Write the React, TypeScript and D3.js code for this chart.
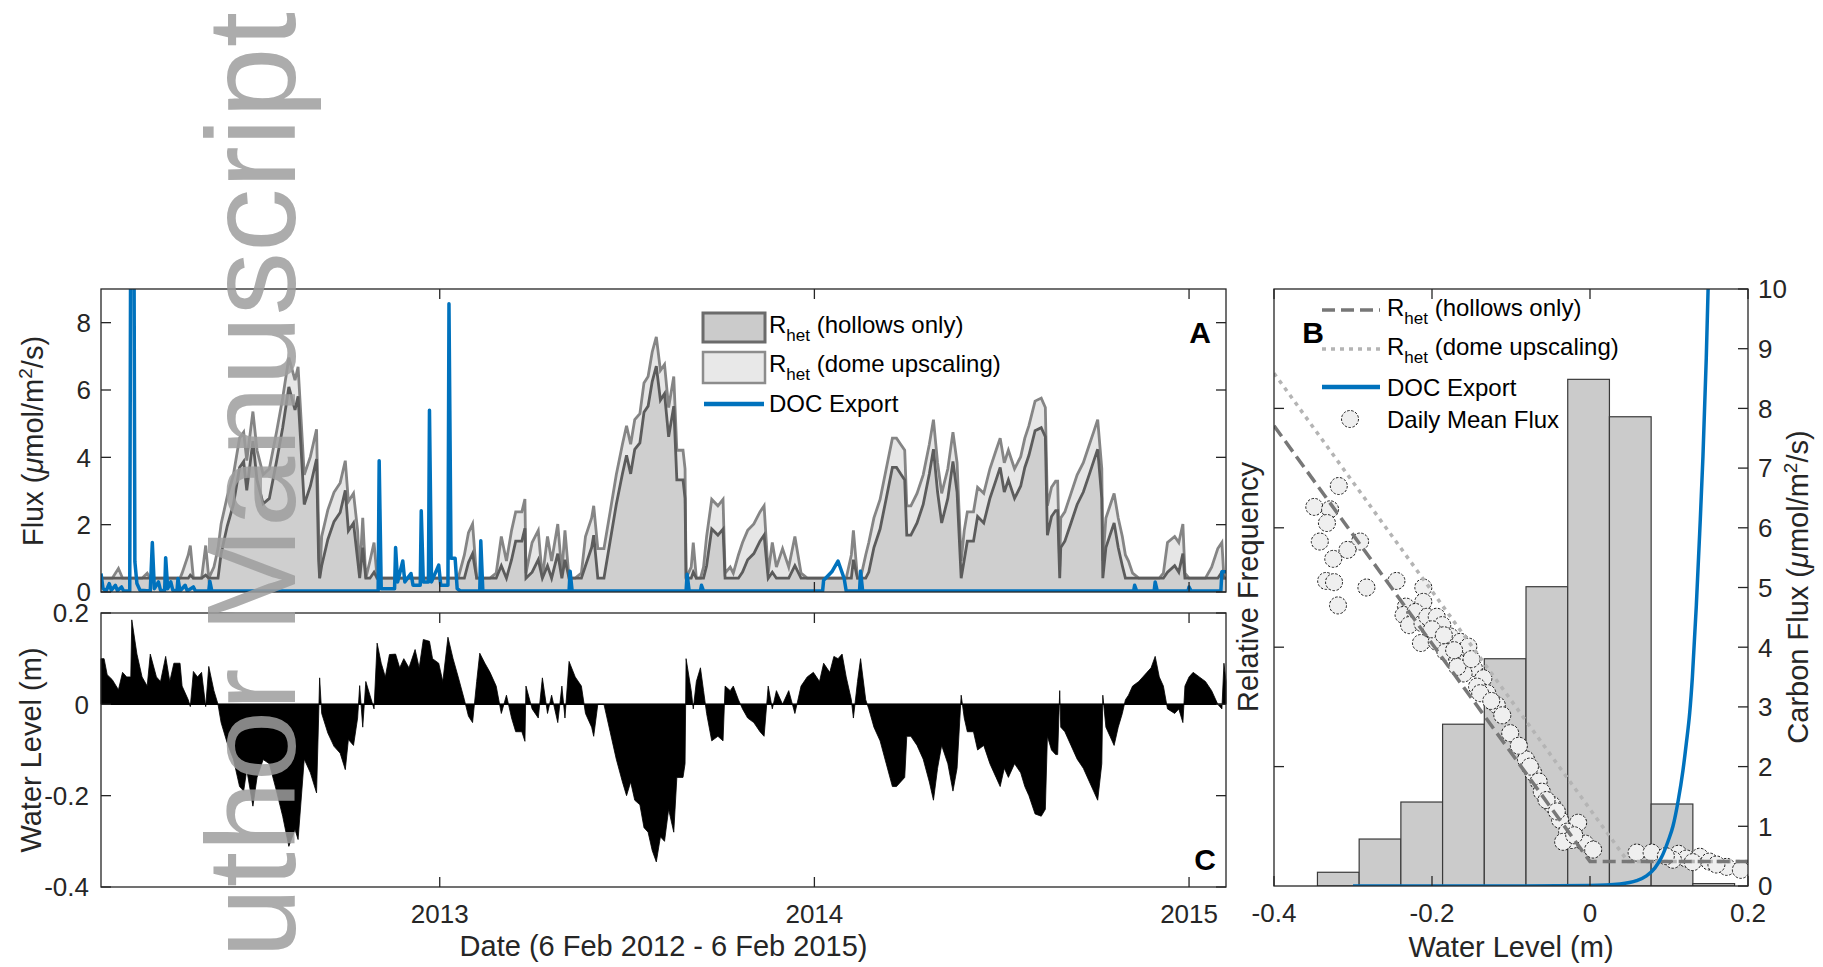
import React, { useEffect } from 'react';
import * as d3 from 'd3';

// ---------- panel A / C : daily series, days since 6 Feb 2012 ----------
const sampleDay = [
  0, 3, 6, 11, 17, 21, 25, 29, 30, 35,
  40, 45, 48, 54, 58, 63, 67, 71, 77, 79,
  85, 87, 90, 94, 98, 102, 105, 110, 114, 117,
  123, 129, 135, 139, 142, 148, 152, 158, 164, 171,
  177, 183, 189, 192, 194, 198, 204, 210, 212, 213,
  215, 221, 227, 233, 238, 241, 246, 250, 252, 255,
  258, 262, 266, 269, 273, 277, 281, 287, 291, 295,
  300, 306, 310, 314, 320, 323, 329, 333, 338, 343,
  348, 354, 358, 362, 366, 369, 374, 379, 385, 390,
  395, 400, 404, 410, 413, 414, 420, 426, 430, 435,
  439, 445, 449, 452, 456, 462, 468, 472, 478, 480,
  484, 490, 496, 502, 508, 512, 516, 520, 525, 529,
  533, 537, 541, 545, 549, 553, 558, 561, 567, 569,
  570, 575, 577, 580, 584, 587, 590, 595, 601, 606,
  608, 613, 616, 621, 625, 630, 636, 642, 646, 650,
  654, 658, 664, 670, 676, 682, 688, 694, 700, 704,
  710, 714, 718, 722, 726, 731, 733, 737, 740, 745,
  748, 753, 759, 765, 771, 775, 779, 783, 785, 789,
  795, 801, 807, 811, 815, 819, 825, 830, 834, 838,
  841, 844, 850, 854, 860, 866, 872, 876, 880, 884,
  890, 896, 900, 904, 910, 916, 920, 922, 926, 930,
  932, 934, 935, 939, 945, 951, 957, 963, 967, 971,
  975, 976, 979, 983, 987, 991, 995, 998, 1001, 1005,
  1011, 1015, 1019, 1023, 1027, 1031, 1035, 1039, 1046, 1050,
  1054, 1056, 1060, 1064, 1070, 1076, 1082, 1088, 1092, 1094, 1096,
];

const waterLevel = [
  0.10, 0.10, 0.065, 0.054, 0.032, 0.07, 0.06, 0.06, 0.185, 0.11,
  0.06, 0.04, 0.11, 0.06, 0.05, 0.105, 0.05, 0.09, 0.09, 0.04,
  0.01, -0.005, 0.072, 0.06, 0.07, -0.005, 0.083, 0.03, 0, -0.04,
  -0.085, -0.12, -0.18, -0.19, -0.143, -0.223, -0.16, -0.121, -0.13, -0.19,
  -0.245, -0.311, -0.274, -0.296, -0.238, -0.12, -0.15, -0.194, -0.03, 0.058,
  -0.02, -0.063, -0.092, -0.107, -0.143, -0.077, -0.09, -0.03, 0.041, -0.05,
  0.05, 0.02, -0.01, 0.134, 0.09, 0.06, 0.109, 0.11, 0.08, 0.10,
  0.08, 0.12, 0.08, 0.142, 0.138, 0.10, 0.09, 0.05, 0.147, 0.10,
  0.06, 0.01, -0.026, -0.04, 0.05, 0.112, 0.09, 0.07, 0.04, -0.02,
  0.02, -0.03, -0.06, -0.06, -0.081, 0.04, -0.01, -0.03, 0.058, -0.02,
  0.02, -0.04, 0.04, -0.03, 0.094, 0.06, 0.04, -0.02, -0.05, -0.07,
  0, 0, -0.06, -0.12, -0.17, -0.20, -0.17, -0.21, -0.22, -0.27,
  -0.28, -0.32, -0.345, -0.29, -0.30, -0.23, -0.28, -0.16, -0.16, -0.13,
  0.10, 0.03, -0.01, 0.05, 0.08, 0.03, -0.02, -0.08, -0.07, -0.08,
  0.04, 0.03, 0.04, 0.01, -0.01, -0.03, -0.04, -0.06, -0.07, 0.04,
  -0.01, 0.03, 0, 0.03, -0.02, 0.04, 0.06, 0.07, 0.05, 0.09,
  0.07, 0.105, 0.10, 0.11, 0.06, 0.01, -0.03, 0.05, 0.10, 0.01,
  -0.01, -0.05, -0.08, -0.13, -0.18, -0.18, -0.17, -0.16, -0.07, -0.07,
  -0.09, -0.12, -0.17, -0.21, -0.14, -0.09, -0.13, -0.19, -0.14, 0.02,
  -0.03, -0.06, -0.06, -0.10, -0.09, -0.13, -0.16, -0.18, -0.14, -0.16,
  -0.13, -0.15, -0.18, -0.20, -0.24, -0.245, -0.23, -0.07, -0.10, -0.11,
  -0.11, 0.03, -0.05, -0.06, -0.09, -0.12, -0.14, -0.17, -0.19, -0.21,
  -0.13, 0.02, -0.05, -0.07, -0.09, -0.05, -0.02, 0.01, 0.02, 0.04,
  0.05, 0.06, 0.07, 0.08, 0.105, 0.06, 0.04, -0.01, -0.02, -0.01,
  -0.04, 0.04, 0.06, 0.07, 0.06, 0.05, 0.03, 0, -0.01, 0.09, 0.05,
];

const rhetHollows = [
  0.41, 0.41, 0.41, 0.41, 0.41, 0.41, 0.41, 0.41, 0.41, 0.41,
  0.41, 0.41, 0.41, 0.41, 0.41, 0.41, 0.41, 0.41, 0.41, 0.41,
  0.41, 0.50, 0.41, 0.41, 0.41, 0.50, 0.41, 0.41, 0.41, 1.14,
  1.96, 2.60, 3.70, 3.88, 3.02, 4.48, 3.33, 2.62, 2.78, 3.88,
  4.88, 6.09, 5.41, 5.81, 4.75, 2.60, 3.15, 3.95, 0.96, 0.41,
  0.78, 1.56, 2.09, 2.36, 3.02, 1.82, 2.05, 0.96, 0.41, 1.32,
  0.41, 0.41, 0.59, 0.41, 0.41, 0.41, 0.41, 0.41, 0.41, 0.41,
  0.41, 0.41, 0.41, 0.41, 0.41, 0.41, 0.41, 0.41, 0.41, 0.41,
  0.41, 0.41, 0.88, 1.14, 0.41, 0.41, 0.41, 0.41, 0.41, 0.78,
  0.41, 0.96, 1.51, 1.51, 1.89, 0.41, 0.59, 0.96, 0.41, 0.78,
  0.41, 1.14, 0.41, 0.96, 0.41, 0.41, 0.41, 0.78, 1.32, 1.69,
  0.41, 0.41, 1.51, 2.60, 3.51, 4.06, 3.51, 4.24, 4.43, 5.34,
  5.52, 6.25, 6.71, 5.70, 5.89, 4.61, 5.52, 3.33, 3.33, 2.78,
  0.41, 0.41, 0.59, 0.41, 0.41, 0.41, 0.78, 1.87, 1.69, 1.87,
  0.41, 0.41, 0.41, 0.41, 0.59, 0.96, 1.14, 1.51, 1.69, 0.41,
  0.59, 0.41, 0.41, 0.41, 0.78, 0.41, 0.41, 0.41, 0.41, 0.41,
  0.41, 0.41, 0.41, 0.41, 0.41, 0.41, 0.96, 0.41, 0.41, 0.41,
  0.59, 1.32, 1.87, 2.78, 3.70, 3.70, 3.51, 3.33, 1.69, 1.69,
  2.05, 2.60, 3.51, 4.24, 2.97, 2.05, 2.78, 3.88, 2.97, 0.41,
  0.96, 1.51, 1.51, 2.24, 2.05, 2.78, 3.33, 3.70, 2.97, 3.33,
  2.78, 3.15, 3.70, 4.06, 4.79, 4.88, 4.61, 1.69, 2.24, 2.42,
  2.42, 0.41, 1.32, 1.51, 2.05, 2.60, 2.97, 3.51, 3.88, 4.24,
  2.78, 0.41, 1.32, 1.69, 2.05, 1.32, 0.78, 0.41, 0.41, 0.41,
  0.41, 0.41, 0.41, 0.41, 0.41, 0.41, 0.41, 0.59, 0.78, 0.59,
  1.14, 0.41, 0.41, 0.41, 0.41, 0.41, 0.41, 0.41, 0.59, 0.41, 0.41,
];

const rhetDome = [
  0.41, 0.41, 0.41, 0.41, 0.70, 0.41, 0.41, 0.41, 0.41, 0.41,
  0.41, 0.56, 0.41, 0.41, 0.41, 0.41, 0.41, 0.41, 0.41, 0.56,
  1.10, 1.38, 0.41, 0.41, 0.41, 1.38, 0.41, 0.74, 1.29, 2.02,
  2.84, 3.48, 4.57, 4.75, 3.90, 5.36, 4.21, 3.49, 3.66, 4.75,
  5.76, 6.96, 6.29, 6.69, 5.63, 3.48, 4.02, 4.83, 1.83, 0.41,
  1.65, 2.44, 2.96, 3.24, 3.90, 2.69, 2.93, 1.83, 0.54, 2.20,
  0.41, 0.92, 1.47, 0.41, 0.41, 0.41, 0.41, 0.41, 0.41, 0.41,
  0.41, 0.41, 0.41, 0.41, 0.41, 0.41, 0.41, 0.41, 0.41, 0.41,
  0.41, 1.10, 1.76, 2.02, 0.41, 0.41, 0.41, 0.41, 0.56, 1.65,
  0.92, 1.83, 2.38, 2.38, 2.76, 0.56, 1.47, 1.83, 0.41, 1.65,
  0.92, 2.02, 0.56, 1.83, 0.41, 0.41, 0.56, 1.65, 2.20, 2.56,
  1.29, 1.29, 2.38, 3.48, 4.39, 4.94, 4.39, 5.12, 5.30, 6.21,
  6.40, 7.13, 7.58, 6.58, 6.76, 5.48, 6.40, 4.21, 4.21, 3.66,
  0.41, 0.74, 1.47, 0.41, 0.41, 0.74, 1.65, 2.75, 2.56, 2.75,
  0.56, 0.74, 0.56, 1.10, 1.47, 1.83, 2.02, 2.38, 2.56, 0.56,
  1.47, 0.74, 1.29, 0.74, 1.65, 0.56, 0.41, 0.41, 0.41, 0.41,
  0.41, 0.41, 0.41, 0.41, 0.41, 1.10, 1.83, 0.41, 0.41, 1.10,
  1.47, 2.20, 2.75, 3.66, 4.57, 4.57, 4.39, 4.21, 2.56, 2.56,
  2.93, 3.48, 4.39, 5.12, 3.84, 2.93, 3.66, 4.75, 3.84, 0.92,
  1.83, 2.38, 2.38, 3.11, 2.93, 3.66, 4.21, 4.57, 3.84, 4.21,
  3.66, 4.02, 4.57, 4.94, 5.67, 5.76, 5.48, 2.56, 3.11, 3.29,
  3.29, 0.74, 2.20, 2.38, 2.93, 3.48, 3.84, 4.39, 4.75, 5.12,
  3.66, 0.92, 2.20, 2.56, 2.93, 2.20, 1.65, 1.10, 0.92, 0.56,
  0.41, 0.41, 0.41, 0.41, 0.41, 0.41, 0.56, 1.47, 1.65, 1.47,
  2.02, 0.56, 0.41, 0.41, 0.41, 0.41, 0.74, 1.29, 1.47, 0.41, 0.41,
];

// DOC export (panel A)
const docDay = [
  0, 2, 5, 8, 10, 14, 16, 20, 22, 28, 29, 32, 33, 35, 38,
  48, 50, 52, 56, 58, 62, 63, 65, 68, 70, 74, 75, 77, 82, 84, 90, 92, 105, 106, 108,
  270, 271, 273, 286, 287, 289, 294, 296, 302, 304, 311, 312, 314, 319, 320, 322, 329, 331,
  338, 339, 341, 345, 347, 350, 369, 370, 372, 456, 457, 459, 570, 571, 573, 584, 585, 587,
  703, 704, 712, 718, 724, 726, 739, 740, 742, 1006, 1007, 1009, 1026, 1027, 1029,
  1059, 1060, 1062, 1091, 1092, 1096,
];
const docFlux = [
  0.55, 0.1, 0.03, 0.25, 0.05, 0.2, 0.04, 0.15, 0.03, 0.03, 12, 12, 0.9, 0.25, 0.05,
  0.03, 1.47, 0.1, 0.3, 0.05, 0.03, 1.02, 0.1, 0.3, 0.05, 0.03, 0.4, 0.03, 0.2, 0.03, 0.15, 0.03, 0.03, 0.32, 0.03,
  0.03, 3.9, 0.1, 0.1, 1.32, 0.3, 0.92, 0.3, 0.55, 0.2, 0.2, 2.41, 0.3, 0.3, 5.4, 0.3, 0.8, 0.2,
  0.2, 8.56, 1.0, 1.0, 0.1, 0.03, 0.03, 1.52, 0.03, 0.03, 0.62, 0.03, 0.03, 0.53, 0.03, 0.03, 0.2, 0.03,
  0.03, 0.35, 0.6, 0.92, 0.4, 0.03, 0.03, 0.62, 0.03, 0.03, 0.2, 0.03, 0.03, 0.3, 0.03,
  0.03, 0.15, 0.03, 0.03, 0.6, 0.6,
];

const yearTicks = [2013, 2014, 2015];
const fluxTicksA = [0, 2, 4, 6, 8];
const wlTicksC = [-0.4, -0.2, 0, 0.2];

// ---------- panel B ----------
const binEdges = [-0.345, -0.2922, -0.2394, -0.1866, -0.1338, -0.081, -0.0282, 0.0246, 0.0774, 0.1302, 0.183];
const binFreq = [0.0069, 0.0236, 0.0422, 0.0813, 0.1142, 0.1504, 0.2546, 0.2358, 0.0412, 0.0012];

const meanFluxWL = [
  -0.318, -0.349, -0.329, -0.333, -0.342, -0.291, -0.307, -0.325, -0.334, -0.324,
  -0.283, -0.245, -0.211, -0.319, -0.211, -0.233, -0.236, -0.221, -0.229, -0.212,
  -0.206, -0.194, -0.187, -0.198, -0.214, -0.177, -0.164, -0.194, -0.154, -0.183,
  -0.168, -0.158, -0.147, -0.160, -0.135, -0.143, -0.130, -0.139, -0.168, -0.118,
  -0.111, -0.101, -0.081, -0.072, -0.065, -0.061, -0.048, -0.055, -0.038, -0.015,
  -0.029, -0.023, -0.006, 0.004, -0.034, 0.059, 0.078, 0.112, 0.139, 0.151,
  0.122, 0.105, 0.173, 0.191, -0.200, -0.185, -0.172, -0.150, -0.125, -0.090,
  -0.076, -0.042, -0.020, 0.096, 0.130, 0.160,
];
const meanFlux = [
  6.70, 6.35, 6.31, 6.08, 5.77, 5.77, 5.63, 5.48, 5.11, 5.09,
  5.00, 5.11, 5.00, 4.70, 4.76, 4.68, 4.54, 4.59, 4.37, 4.40,
  4.51, 4.51, 4.37, 4.23, 4.07, 4.18, 4.09, 4.09, 4.01, 3.92,
  3.81, 3.73, 3.65, 3.56, 3.48, 3.34, 3.23, 3.23, 3.67, 3.03,
  2.86, 2.56, 2.12, 1.90, 1.75, 1.58, 1.36, 1.44, 1.11, 1.06,
  0.91, 0.77, 0.71, 0.61, 0.74, 0.56, 0.56, 0.54, 0.49, 0.41,
  0.46, 0.44, 0.32, 0.27, 4.30, 4.20, 3.95, 3.80, 3.10, 2.35,
  2.00, 1.25, 0.85, 0.50, 0.40, 0.36,
];

const hollowsFitWL = [-0.4, 0, 0.2];
const hollowsFitFlux = [7.71, 0.41, 0.41];
const domeFitWL = [-0.4, 0.048, 0.2];
const domeFitFlux = [8.59, 0.41, 0.41];

const docCurveWL = [-0.3, -0.1, 0.0, 0.038, 0.059, 0.0715, 0.082, 0.0905, 0.0988, 0.105,
  0.1115, 0.1177, 0.122, 0.1262, 0.1296, 0.1346, 0.1388, 0.143, 0.1472, 0.1495];
const docCurveFlux = [0, 0, 0.01, 0.035, 0.09, 0.17, 0.30, 0.48, 0.75, 1.0,
  1.42, 1.94, 2.4, 2.9, 3.5, 4.7, 5.9, 7.2, 8.85, 10.0];

const wlTicksB = [-0.4, -0.2, 0, 0.2];
const freqTicks = [0.06, 0.12, 0.18, 0.24];
const carbonTicks = [0, 1, 2, 3, 4, 5, 6, 7, 8, 9, 10];

// ---------- layout ----------
const W = 1823, H = 967;
const FONT = '"Liberation Sans", Arial, Helvetica, sans-serif';
const AX = '#262626';
const BLUE = '#0072BD';
const TICK = 10;

const L = 101, R = 1226;
const aTop = 289, aBot = 592;
const cTop = 613, cBot = 887;
const bL = 1274, bR = 1748, bTop = 289, bBot = 886;

const t0 = Date.UTC(2012, 1, 6);
const DAY = 86400000;
const xTime = d3.scaleUtc().domain([new Date(t0), new Date(t0 + 1096 * DAY)]).range([L, R]);
const dayX = (d: number) => xTime(new Date(t0 + d * DAY));
const yearX = (y: number) => xTime(new Date(Date.UTC(y, 0, 1)));

const yA = d3.scaleLinear().domain([0, 9]).range([aBot, aTop]);
const yC = d3.scaleLinear().domain([-0.4, 0.2]).range([cBot, cTop]);
const xB = d3.scaleLinear().domain([-0.4, 0.2]).range([bL, bR]);
const yFreq = d3.scaleLinear().domain([0, 0.3]).range([bBot, bTop]);
const yCarbon = d3.scaleLinear().domain([0, 10]).range([bBot, bTop]);

function Unit() {
  return (
    <>
      <tspan>(</tspan>
      <tspan fontStyle="italic">μ</tspan>
      <tspan>mol/m</tspan>
      <tspan fontSize={19} dy={-11}>2</tspan>
      <tspan dy={11}>/s)</tspan>
    </>
  );
}

function Rhet(props: { x: number; y: number; rest: string }) {
  return (
    <text x={props.x} y={props.y} fontSize={24} fill="#000">
      <tspan>R</tspan>
      <tspan fontSize={17} dy={8}>het</tspan>
      <tspan dy={-8}>{' ' + props.rest}</tspan>
    </text>
  );
}

export default function App() {
  useEffect(() => {
    document.body.style.margin = '0';
  }, []);

  const idx = d3.range(sampleDay.length);

  const domeArea = d3.area<number>()
    .x(i => dayX(sampleDay[i])).y0(yA(0)).y1(i => yA(rhetDome[i]))(idx) || '';
  const hollowsArea = d3.area<number>()
    .x(i => dayX(sampleDay[i])).y0(yA(0)).y1(i => yA(rhetHollows[i]))(idx) || '';
  const domeLine = d3.line<number>()
    .x(i => dayX(sampleDay[i])).y(i => yA(rhetDome[i]))(idx) || '';
  const hollowsLine = d3.line<number>()
    .x(i => dayX(sampleDay[i])).y(i => yA(rhetHollows[i]))(idx) || '';
  const docLine = d3.line<number>()
    .x(i => dayX(docDay[i])).y(i => yA(docFlux[i]))(d3.range(docDay.length)) || '';
  const wlArea = d3.area<number>()
    .x(i => dayX(sampleDay[i])).y0(yC(0)).y1(i => yC(waterLevel[i]))(idx) || '';

  const fitLine = (wl: number[], fl: number[]) =>
    d3.line<number>().x(i => xB(wl[i])).y(i => yCarbon(fl[i]))(d3.range(wl.length)) || '';
  const docCurve = d3.line<number>()
    .curve(d3.curveMonotoneX)
    .x(i => xB(docCurveWL[i])).y(i => yCarbon(docCurveFlux[i]))(d3.range(docCurveWL.length)) || '';

  const frame = (x0: number, y0: number, x1: number, y1: number) => (
    <rect x={x0} y={y0} width={x1 - x0} height={y1 - y0} fill="none" stroke={AX} strokeWidth={1.3} />
  );

  return (
    <svg width={W} height={H} viewBox={`0 0 ${W} ${H}`}
      style={{ position: 'absolute', left: 0, top: 0, display: 'block', background: '#fff' }}
      fontFamily={FONT}>
      <defs>
        <clipPath id="clipA"><rect x={L} y={aTop} width={R - L} height={aBot - aTop} /></clipPath>
        <clipPath id="clipB"><rect x={bL} y={bTop} width={bR - bL} height={bBot - bTop} /></clipPath>
      </defs>
      <rect width={W} height={H} fill="#fff" />

      {/* ---------- panel A ---------- */}
      <g clipPath="url(#clipA)">
        <path d={domeArea} fill="#e6e6e6" />
        <path d={hollowsArea} fill="#cfcfcf" />
        <path d={domeLine} fill="none" stroke="#858585" strokeWidth={2.8} />
        <path d={hollowsLine} fill="none" stroke="#5c5c5c" strokeWidth={2.8} />
        <path d={docLine} fill="none" stroke={BLUE} strokeWidth={3.5} strokeLinejoin="round" />
      </g>
      {frame(L, aTop, R, aBot)}
      {fluxTicksA.map(v => (
        <g key={'ya' + v}>
          <line x1={L} x2={L + TICK} y1={yA(v)} y2={yA(v)} stroke={AX} strokeWidth={1.3} />
          <line x1={R} x2={R - TICK} y1={yA(v)} y2={yA(v)} stroke={AX} strokeWidth={1.3} />
          <text x={91} y={yA(v)} dy="0.36em" textAnchor="end" fontSize={26} fill="#262626">{v}</text>
        </g>
      ))}
      {yearTicks.map(y => (
        <g key={'xa' + y}>
          <line x1={yearX(y)} x2={yearX(y)} y1={aTop} y2={aTop + TICK} stroke={AX} strokeWidth={1.3} />
          <line x1={yearX(y)} x2={yearX(y)} y1={aBot} y2={aBot - TICK} stroke={AX} strokeWidth={1.3} />
        </g>
      ))}
      <text transform={`translate(43,441) rotate(-90)`} textAnchor="middle" fontSize={29} fill="#262626">
        <tspan>Flux </tspan><Unit />
      </text>
      <text x={1200} y={343} textAnchor="middle" fontSize={30} fontWeight="bold">A</text>

      {/* legend A */}
      <rect x={703} y={313} width={62} height={29} fill="#cbcbcb" stroke="#6b6b6b" strokeWidth={3} />
      <rect x={703} y={352} width={62} height={31} fill="#e8e8e8" stroke="#8c8c8c" strokeWidth={2.5} />
      <line x1={704} x2={764} y1={404} y2={404} stroke={BLUE} strokeWidth={4.5} />
      <Rhet x={769} y={333} rest="(hollows only)" />
      <Rhet x={769} y={372} rest="(dome upscaling)" />
      <text x={769} y={412} fontSize={24}>DOC Export</text>

      {/* ---------- panel C ---------- */}
      <path d={wlArea} fill="#000" stroke="#000" strokeWidth={0.8} />
      <line x1={L} x2={R} y1={yC(0)} y2={yC(0)} stroke="#000" strokeWidth={1.5} />
      {frame(L, cTop, R, cBot)}
      {wlTicksC.map(v => (
        <g key={'yc' + v}>
          <line x1={L} x2={L + TICK} y1={yC(v)} y2={yC(v)} stroke={AX} strokeWidth={1.3} />
          <line x1={R} x2={R - TICK} y1={yC(v)} y2={yC(v)} stroke={AX} strokeWidth={1.3} />
          <text x={89} y={yC(v)} dy="0.36em" textAnchor="end" fontSize={26} fill="#262626">{String(v)}</text>
        </g>
      ))}
      {yearTicks.map(y => (
        <g key={'xc' + y}>
          <line x1={yearX(y)} x2={yearX(y)} y1={cTop} y2={cTop + TICK} stroke={AX} strokeWidth={1.3} />
          <line x1={yearX(y)} x2={yearX(y)} y1={cBot} y2={cBot - TICK} stroke={AX} strokeWidth={1.3} />
          <text x={yearX(y)} y={923} textAnchor="middle" fontSize={26} fill="#262626">{y}</text>
        </g>
      ))}
      <text transform={`translate(41,750) rotate(-90)`} textAnchor="middle" fontSize={29} fill="#262626">Water Level (m)</text>
      <text x={(L + R) / 2} y={956} textAnchor="middle" fontSize={29} fill="#262626">Date (6 Feb 2012 - 6 Feb 2015)</text>
      <text x={1205} y={870} textAnchor="middle" fontSize={30} fontWeight="bold">C</text>

      {/* ---------- panel B ---------- */}
      <g clipPath="url(#clipB)">
        {binFreq.map((f, i) => (
          <rect key={'bin' + i} x={xB(binEdges[i])} y={yFreq(f)}
            width={xB(binEdges[i + 1]) - xB(binEdges[i])} height={yFreq(0) - yFreq(f)}
            fill="#cbcbcb" stroke="#3a3a3a" strokeWidth={1.2} />
        ))}
        {meanFlux.map((f, i) => (
          <circle key={'mf' + i} cx={xB(meanFluxWL[i])} cy={yCarbon(f)} r={8.5}
            fill="#efefef" stroke="#1a1a1a" strokeWidth={1} strokeDasharray="2.5 1.6" />
        ))}
        <path d={fitLine(domeFitWL, domeFitFlux)} fill="none" stroke="#b4b4b4" strokeWidth={3.5} strokeDasharray="4 5" />
        <path d={fitLine(hollowsFitWL, hollowsFitFlux)} fill="none" stroke="#777" strokeWidth={3.5} strokeDasharray="13 6" />
        <path d={docCurve} fill="none" stroke={BLUE} strokeWidth={3.5} />
      </g>
      {frame(bL, bTop, bR, bBot)}
      {wlTicksB.map(v => (
        <g key={'xb' + v}>
          <line x1={xB(v)} x2={xB(v)} y1={bBot} y2={bBot - TICK} stroke={AX} strokeWidth={1.3} />
          <line x1={xB(v)} x2={xB(v)} y1={bTop} y2={bTop + TICK} stroke={AX} strokeWidth={1.3} />
          <text x={xB(v)} y={922} textAnchor="middle" fontSize={26} fill="#262626">{String(v)}</text>
        </g>
      ))}
      {freqTicks.map(v => (
        <line key={'yf' + v} x1={bL} x2={bL + TICK} y1={yFreq(v)} y2={yFreq(v)} stroke={AX} strokeWidth={1.3} />
      ))}
      {carbonTicks.map(v => (
        <g key={'yk' + v}>
          <line x1={bR} x2={bR - TICK} y1={yCarbon(v)} y2={yCarbon(v)} stroke={AX} strokeWidth={1.3} />
          <text x={1758} y={yCarbon(v)} dy="0.36em" fontSize={26} fill="#262626">{v}</text>
        </g>
      ))}
      <text x={(bL + bR) / 2} y={957} textAnchor="middle" fontSize={29} fill="#262626">Water Level (m)</text>
      <text transform={`translate(1258,587) rotate(-90)`} textAnchor="middle" fontSize={29} fill="#262626">Relative Frequency</text>
      <text transform={`translate(1808,587) rotate(-90)`} textAnchor="middle" fontSize={29} fill="#262626">
        <tspan>Carbon Flux </tspan><Unit />
      </text>
      <text x={1313} y={343} textAnchor="middle" fontSize={30} fontWeight="bold">B</text>

      {/* legend B */}
      <line x1={1322} x2={1380} y1={310} y2={310} stroke="#777" strokeWidth={3.5} strokeDasharray="13 6" />
      <line x1={1322} x2={1380} y1={349} y2={349} stroke="#b4b4b4" strokeWidth={3.5} strokeDasharray="4 5" />
      <line x1={1322} x2={1380} y1={387} y2={387} stroke={BLUE} strokeWidth={4.5} />
      <circle cx={1350} cy={419} r={8.5} fill="#efefef" stroke="#1a1a1a" strokeWidth={1} strokeDasharray="2.5 1.6" />
      <Rhet x={1387} y={316} rest="(hollows only)" />
      <Rhet x={1387} y={355} rest="(dome upscaling)" />
      <text x={1387} y={396} fontSize={24}>DOC Export</text>
      <text x={1387} y={428} fontSize={24}>Daily Mean Flux</text>

      {/* watermark */}
      <text transform="translate(295,12) rotate(-90)" textAnchor="end" fontSize={127}
        fill="#9e9e9e" opacity={0.85}>uthor Manuscript</text>
    </svg>
  );
}
